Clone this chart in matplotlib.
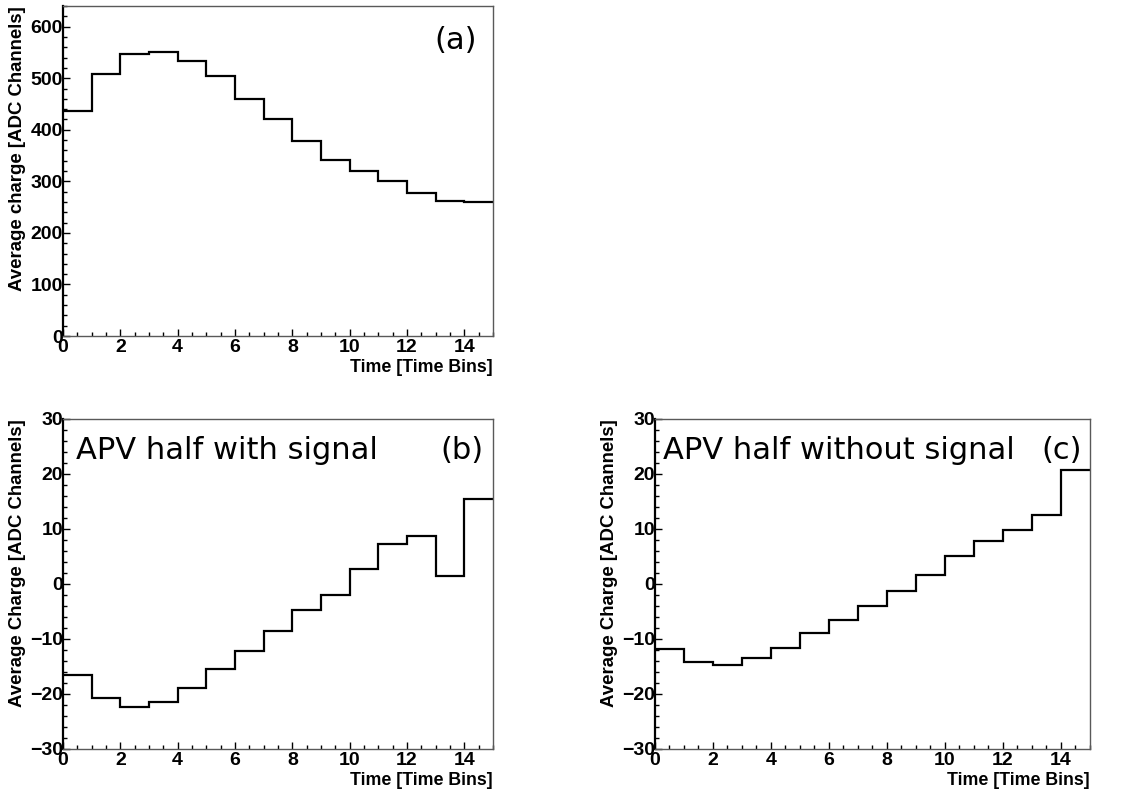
import numpy as np
import matplotlib as mpl
mpl.use('Agg')
import matplotlib.pyplot as plt
from matplotlib.ticker import MultipleLocator

# bin edges: 15 time bins
edges = np.arange(0, 16)

# average charge per time bin
charge_a = [437, 508, 547, 551, 534, 504, 460, 420, 379, 341, 320, 301, 278, 262, 260]
charge_b = [-16.6, -20.8, -22.4, -21.5, -19.0, -15.5, -12.2, -8.5, -4.7, -2.0,
            2.7, 7.3, 8.8, 1.4, 15.4]
charge_c = [-11.8, -14.2, -14.7, -13.5, -11.7, -8.9, -6.5, -4.0, -1.3, 1.6,
            5.0, 7.9, 9.9, 12.6, 20.7]

xlabel = 'Time [Time Bins]'
ylabel_a = 'Average charge [ADC Channels]'
ylabel_bc = 'Average Charge [ADC Channels]'

plt.rcParams['font.family'] = ['Liberation Sans', 'DejaVu Sans']

fig = plt.figure(figsize=(11.33, 7.91), dpi=100)
ax_a = fig.add_axes([0.0556, 0.5752, 0.3795, 0.4172])
ax_b = fig.add_axes([0.0556, 0.0531, 0.3795, 0.4172])
ax_c = fig.add_axes([0.5781, 0.0531, 0.3839, 0.4172])


def style(ax, ylabel, ylim, ymajor, yminor):
    ax.set_xlim(0, 15)
    ax.set_ylim(*ylim)
    ax.xaxis.set_major_locator(MultipleLocator(2))
    ax.xaxis.set_minor_locator(MultipleLocator(0.5))
    ax.yaxis.set_major_locator(MultipleLocator(ymajor))
    ax.yaxis.set_minor_locator(MultipleLocator(yminor))
    ax.tick_params(which='both', direction='in', top=False, right=False,
                   labelsize=14, width=1)
    ax.tick_params(axis='x', which='major', length=5, pad=2)
    ax.tick_params(axis='y', which='major', length=5, pad=0)
    ax.tick_params(which='minor', length=3)
    for lbl in ax.get_xticklabels() + ax.get_yticklabels():
        lbl.set_fontweight('bold')
    for s in ['top', 'right', 'bottom']:
        ax.spines[s].set_linewidth(1.0)
        ax.spines[s].set_color('0.35')
    ax.spines['left'].set_linewidth(1.6)
    ax.text(1.0, -0.094, xlabel, transform=ax.transAxes, ha='right',
            va='center', fontsize=12.8, fontweight='bold')
    ax.text(-0.105, 1.0, ylabel, transform=ax.transAxes, ha='center',
            va='top', rotation=90, fontsize=13.4, fontweight='bold')


ax_a.stairs(charge_a, edges, baseline=None, color='black', linewidth=1.6)
style(ax_a, ylabel_a, (0, 640), 100, 20)
ax_a.text(0.963, 0.897, '(a)', transform=ax_a.transAxes, ha='right',
          va='center', fontsize=22, family='DejaVu Sans')

ax_b.stairs(charge_b, edges, baseline=None, color='black', linewidth=1.6)
style(ax_b, ylabel_bc, (-30, 30), 10, 2)
ax_b.text(0.03, 0.906, 'APV half with signal', transform=ax_b.transAxes,
          ha='left', va='center', fontsize=22, family='DejaVu Sans')
ax_b.text(0.977, 0.906, '(b)', transform=ax_b.transAxes, ha='right',
          va='center', fontsize=22, family='DejaVu Sans')

ax_c.stairs(charge_c, edges, baseline=None, color='black', linewidth=1.6)
style(ax_c, ylabel_bc, (-30, 30), 10, 2)
ax_c.text(0.018, 0.906, 'APV half without signal', transform=ax_c.transAxes,
          ha='left', va='center', fontsize=22, family='DejaVu Sans')
ax_c.text(0.982, 0.906, '(c)', transform=ax_c.transAxes, ha='right',
          va='center', fontsize=22, family='DejaVu Sans')

plt.savefig('out.png', dpi=100)
plt.close()
